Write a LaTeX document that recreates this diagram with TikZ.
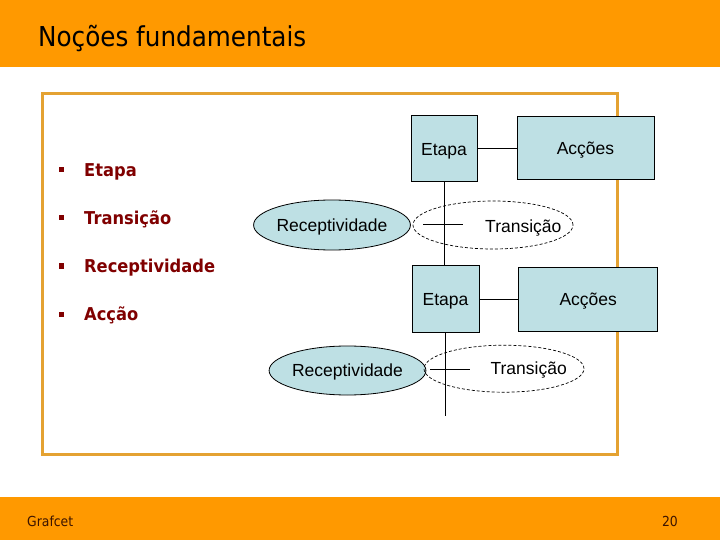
\documentclass[tikz,border=0pt]{standalone}
\usepackage{fontspec}
\setmainfont{Liberation Sans}
\newfontfamily\tahoma[FakeStretch=0.9]{DejaVu Sans}
\newfontfamily\tahomabullet[FakeStretch=0.92]{DejaVu Sans}
\usetikzlibrary{shapes.geometric}
\definecolor{bandorange}{RGB}{255,153,0}
\definecolor{framegold}{RGB}{228,162,50}
\definecolor{boxblue}{RGB}{190,224,228}
\definecolor{bulletred}{RGB}{128,0,0}
\definecolor{foottext}{RGB}{60,20,0}
\begin{document}
\begin{tikzpicture}[x=1bp,y=-1bp,
  diagtext/.style={inner sep=0pt, text height=12.5bp, text depth=0pt,
    font=\fontsize{17.5bp}{20bp}\selectfont},
  stepbox/.style={diagtext, rectangle, draw=black, line width=1bp, fill=boxblue},
  recep/.style={diagtext, ellipse, draw=black, line width=0.8bp, fill=boxblue},
  transell/.style={ellipse, draw=black, line width=0.7bp, dash pattern=on 3bp off 2bp, inner sep=0pt},
  link/.style={draw=black, line width=1bp},
  bulletitem/.style={anchor=west, inner sep=0pt, text height=12.9bp, text depth=0pt,
    text=bulletred, font=\tahomabullet\bfseries\fontsize{17.7bp}{20bp}\selectfont},
  bulletsq/.style={fill=bulletred, minimum size=5bp, inner sep=0pt, rectangle}
]
\useasboundingbox (0,0) rectangle (720,540);
% bands
\fill[bandorange] (0,0) rectangle (720,67);
\fill[bandorange] (0,497) rectangle (720,540);
\node[anchor=base west, inner sep=0pt, font=\tahoma\fontsize{27.4bp}{30bp}\selectfont] (title) at (38,47) {Noções fundamentais};
\node[anchor=base west, inner sep=0pt, text=foottext, font=\tahoma\fontsize{13.8bp}{16bp}\selectfont] (foot) at (27,526) {Grafcet};
\node[anchor=base east, inner sep=0pt, text=foottext, font=\tahoma\fontsize{13.8bp}{16bp}\selectfont] (page) at (678,526) {20};
% frame
\draw[framegold, line width=3bp] (42,94) rectangle (617.5,454);
% bullets
\node[bulletsq] (b1) at (61.5,170) {};
\node[bulletitem] (t1) at (84,170.5) {Etapa};
\node[bulletsq] (b2) at (61.5,217.5) {};
\node[bulletitem] (t2) at (84,218) {Transição};
\node[bulletsq] (b3) at (61.5,266) {};
\node[bulletitem] (t3) at (84,266.5) {Receptividade};
\node[bulletsq] (b4) at (61.5,314) {};
\node[bulletitem] (t4) at (84,314.5) {Acção};
% diagram
\node[stepbox, minimum width=66bp, minimum height=66bp] (e1) at (444,149) {Etapa};
\node[stepbox, minimum width=137bp, minimum height=63bp] (a1) at (585.5,148.5) {Acções};
\node[stepbox, minimum width=67bp, minimum height=66bp] (e2) at (445.5,299) {Etapa};
\node[stepbox, minimum width=138.5bp, minimum height=63bp] (a2) at (588.2,299.5) {Acções};
\node[recep, minimum width=144bp, minimum height=50bp] (r1) at (332,225) {Receptividade};
\node[recep, minimum width=145bp, minimum height=49bp] (r2) at (347.5,370.5) {Receptividade};
\node[transell, minimum width=160bp, minimum height=48bp] (te1) at (493,225) {};
\node[transell, minimum width=160bp, minimum height=47bp] (te2) at (504,368.7) {};
\node[diagtext] (tt1) at (523.3,226.5) {Transição};
\node[diagtext] (tt2) at (528.7,368.3) {Transição};
\coordinate (bar1l) at (423,225);
\coordinate (bar1r) at (463,225);
\coordinate (bar2l) at (430,369);
\coordinate (bar2r) at (470,369);
\coordinate (tailend) at (447,416);
\draw[link] (e1.east) -- (e1.east -| a1.west);
\draw[link] (e2.east) -- (e2.east -| a2.west);
\draw[link] (e1.south) -- (e1.south |- e2.north);
\draw[link] (e2.south) -- (e2.south |- tailend);
\draw[link] (bar1l) -- (bar1r);
\draw[link] (bar2l) -- (bar2r);
\end{tikzpicture}
\end{document}
